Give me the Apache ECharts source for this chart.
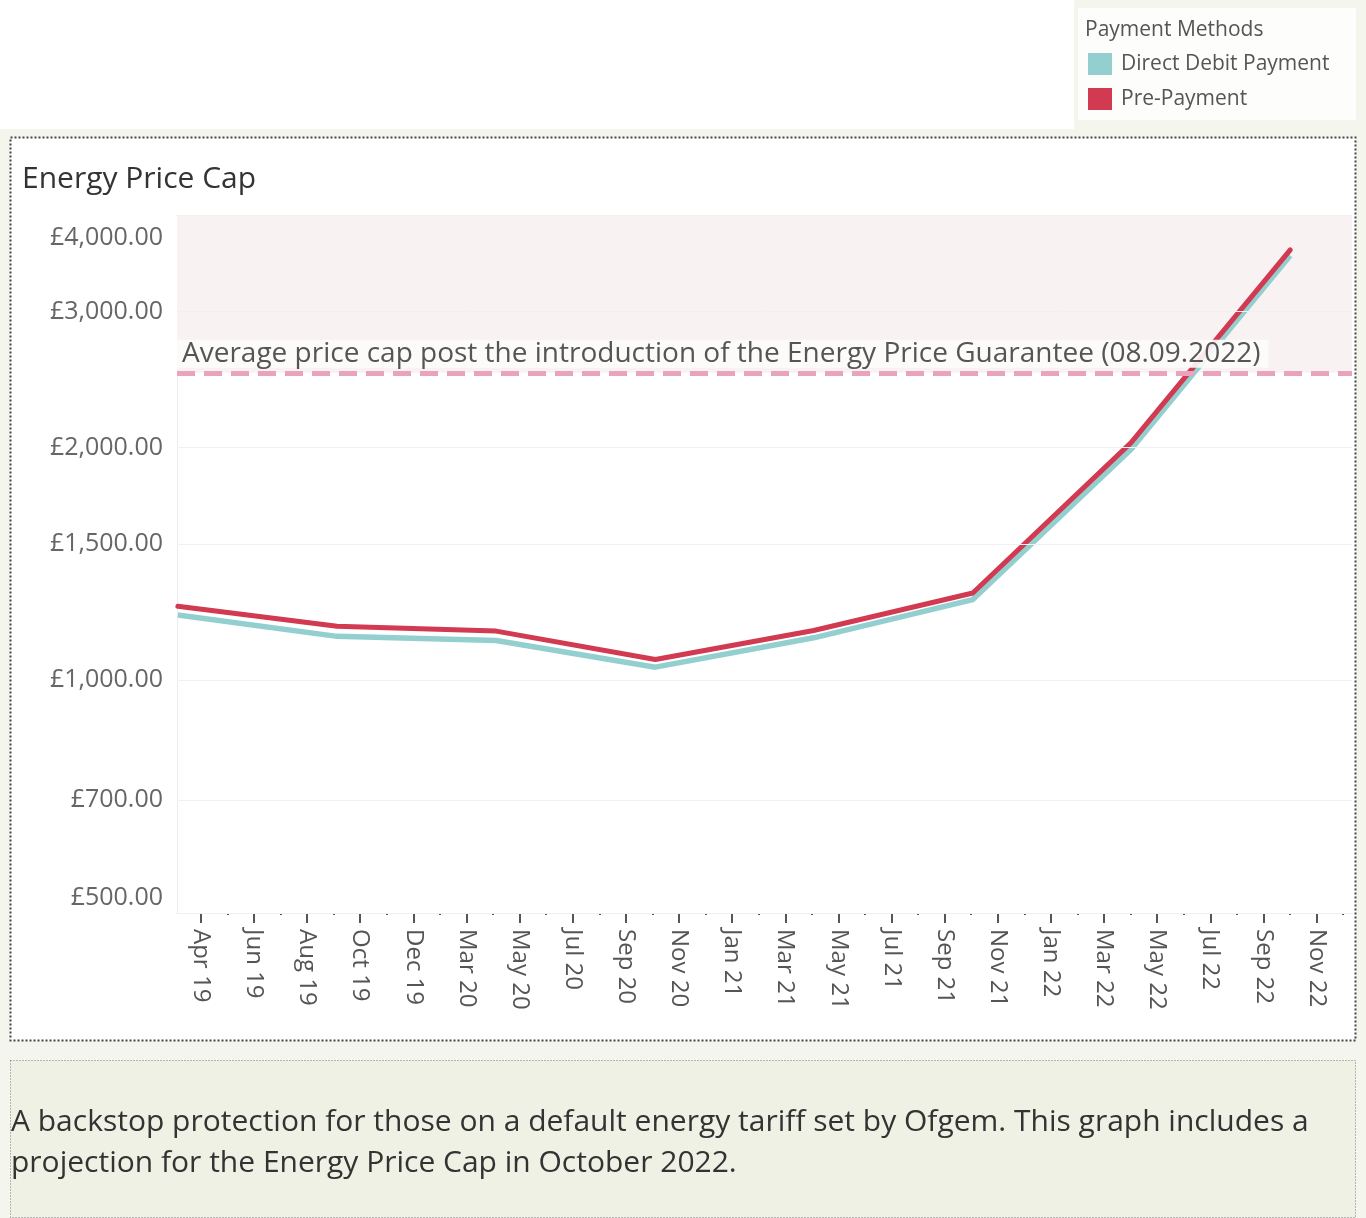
<!DOCTYPE html>
<html>
<head>
<meta charset="utf-8">
<title>Energy Price Cap</title>
<script src="https://cdn.jsdelivr.net/npm/echarts@6/dist/echarts.min.js"></script>
<style>
  html, body { margin: 0; padding: 0; background: #f4f6ee; }
  #chart { width: 1366px; height: 1218px; }
</style>
</head>
<body>
<div id="chart"></div>
<script>
// dates the cap changed
var capDates = ['2019-04-01', '2019-10-01', '2020-04-01', '2020-10-01', '2021-04-01', '2021-10-01', '2022-04-01', '2022-10-01']
// £ per year
var directDebit = [1215, 1140, 1126, 1040, 1135, 1272, 1990, 3545]
var prePayment = [1247, 1175, 1158, 1064, 1160, 1297, 2030, 3605]
var epgAverage = 2500
var yTicks = [500, 700, 1000, 1500, 2000, 3000, 4000]
var xTickLabels = ['Apr 19', 'Jun 19', 'Aug 19', 'Oct 19', 'Dec 19', 'Mar 20', 'May 20', 'Jul 20', 'Sep 20', 'Nov 20', 'Jan 21',
  'Mar 21', 'May 21', 'Jul 21', 'Sep 21', 'Nov 21', 'Jan 22', 'Mar 22', 'May 22', 'Jul 22', 'Sep 22', 'Nov 22']
var epgText = 'Average price cap post the introduction of the Energy Price Guarantee (08.09.2022)'
var noteText = 'A backstop protection for those on a default energy tariff set by Ofgem. This graph includes a\nprojection for the Energy Price Cap in October 2022.'

var FONT = 'Open Sans'
var DD_COLOR = '#93cfcf'
var PP_COLOR = '#d23a52'
var DAY = 24 * 3600 * 1000
var base = Date.UTC(2019, 2, 31)
// x axis is days since 31 Mar 2019 (a time axis will not take custom ticks)
function dayNo (s) {
  return (Date.parse(s) - base) / DAY
}
var xMax = dayNo('2022-12-11')
// tableau puts its date ticks about every 61 days
var tickStart = 27.4
var tickStep = 61.09
var majorTicks = []
var minorTicks = []
xTickLabels.forEach(function (l, i) {
  majorTicks.push(tickStart + i * tickStep)
  minorTicks.push(tickStart + (i + 0.5) * tickStep)
})

function pairs (vals) {
  return vals.map(function (v, i) { return [dayNo(capDates[i]), v] })
}

function money (v) {
  return '£' + echarts.format.addCommas(Math.round(v)) + '.00'
}

var chart = echarts.init(document.getElementById('chart'))
chart.setOption({
  backgroundColor: '#f4f6ee',
  textStyle: { fontFamily: FONT },
  animation: false,
  title: [
    {
      text: 'Energy Price Cap',
      left: 17,
      top: 159,
      textStyle: { fontFamily: FONT, fontSize: 30, fontWeight: 'normal', color: '#333' }
    },
    {
      text: 'Payment Methods',
      left: 1080,
      top: 15,
      textStyle: { fontFamily: FONT, fontSize: 21, fontWeight: 'normal', color: '#555' }
    }
  ],
  legend: {
    data: ['Direct Debit Payment', 'Pre-Payment'],
    orient: 'vertical',
    left: 1088,
    top: 53,
    padding: 0,
    icon: 'rect',
    itemWidth: 24,
    itemHeight: 22,
    itemGap: 13,
    textStyle: { fontFamily: FONT, fontSize: 21, color: '#555', padding: [4, 0, 0, 4] }
  },
  graphic: [
    { type: 'rect', z: -10, shape: { x: 0, y: 0, width: 1074, height: 129 }, style: { fill: '#fff' } },
    { type: 'rect', z: -10, shape: { x: 1078, y: 8, width: 278, height: 112 }, style: { fill: '#fdfdfb' } },
    {
      type: 'rect', z: -10,
      shape: { x: 10.5, y: 137.5, width: 1345, height: 903 },
      style: { fill: '#fff', stroke: '#444', lineWidth: 2, lineDash: [2, 2] }
    },
    {
      type: 'rect', z: -10,
      shape: { x: 10.5, y: 1060.5, width: 1345, height: 157 },
      style: { fill: '#eef1e3', stroke: '#777', lineWidth: 1, lineDash: [1, 2] }
    },
    {
      type: 'text', left: 11, top: 1102,
      style: { text: noteText, font: '30px "Open Sans"', lineHeight: 41, fill: '#333' }
    }
  ],
  grid: { left: 177, right: 14, top: 215, bottom: 305 },
  xAxis: [
    {
      type: 'value',
      min: 0,
      max: xMax,
      axisLine: { show: true, lineStyle: { color: '#e6e6e6' } },
      axisTick: { show: true, customValues: majorTicks, length: 10, lineStyle: { color: '#555', width: 2 } },
      splitLine: { show: false },
      axisLabel: {
        customValues: majorTicks,
        rotate: -90,
        margin: 16,
        fontSize: 24,
        color: '#555',
        formatter: function (v) {
          return xTickLabels[Math.round((v - tickStart) / tickStep)] || ''
        }
      }
    },
    {
      type: 'value',
      min: 0,
      max: xMax,
      position: 'bottom',
      axisLine: { show: false },
      axisLabel: { show: false },
      splitLine: { show: false },
      axisTick: { show: true, customValues: minorTicks, length: 2, lineStyle: { color: '#555', width: 2 } }
    }
  ],
  yAxis: {
    type: 'log',
    logBase: 10,
    min: 500,
    max: 4000,
    axisLine: { show: true, lineStyle: { color: '#ececec' } },
    axisTick: { show: false },
    splitLine: { show: false },
    axisLabel: {
      customValues: yTicks,
      margin: 14,
      fontSize: 25,
      color: '#666',
      verticalAlignMinLabel: 'bottom',
      verticalAlignMaxLabel: 'top',
      formatter: function (v) {
        // tableau pulls the end labels inside the pane
        if (Math.round(v) === 4000) return '{top|' + money(v) + '}'
        if (Math.round(v) === 500) return '{bot|' + money(v) + '}'
        return money(v)
      },
      rich: {
        top: { fontSize: 25, color: '#666', padding: [10, 0, 0, 0] },
        bot: { fontSize: 25, color: '#666', padding: [0, 0, 3, 0] }
      }
    }
  },
  series: [
    {
      name: 'EPG',
      type: 'line',
      data: [],
      z: 1,
      silent: true,
      markArea: {
        silent: true,
        itemStyle: { color: '#f9f2f2' },
        data: [[{ yAxis: epgAverage }, { yAxis: 4000 }]]
      },
      markLine: {
        silent: true,
        symbol: ['none', 'none'],
        data: yTicks.map(function (v) {
          return { yAxis: v, lineStyle: { color: '#f0f0f0', width: 1, type: 'solid' }, label: { show: false } }
        }).concat([{
          yAxis: epgAverage,
          lineStyle: { color: '#e9a3bd', width: 5, type: [18, 9] },
          label: {
            show: true,
            position: 'insideStartTop',
            formatter: epgText,
            fontFamily: FONT,
            fontSize: 28,
            color: '#555',
            backgroundColor: 'rgba(253,252,251,0.9)',
            padding: [0, 8, 0, 5],
            distance: [0, 5]
          }
        }])
      }
    },
    {
      name: 'Direct Debit Payment',
      type: 'line',
      z: 3,
      symbol: 'none',
      itemStyle: { color: DD_COLOR },
      lineStyle: { width: 5.5, color: DD_COLOR },
      data: pairs(directDebit)
    },
    {
      name: 'Pre-Payment',
      type: 'line',
      z: 4,
      symbol: 'none',
      itemStyle: { color: PP_COLOR },
      lineStyle: { width: 5, color: PP_COLOR, cap: 'round' },
      data: pairs(prePayment)
    }
  ]
})
</script>
</body>
</html>
